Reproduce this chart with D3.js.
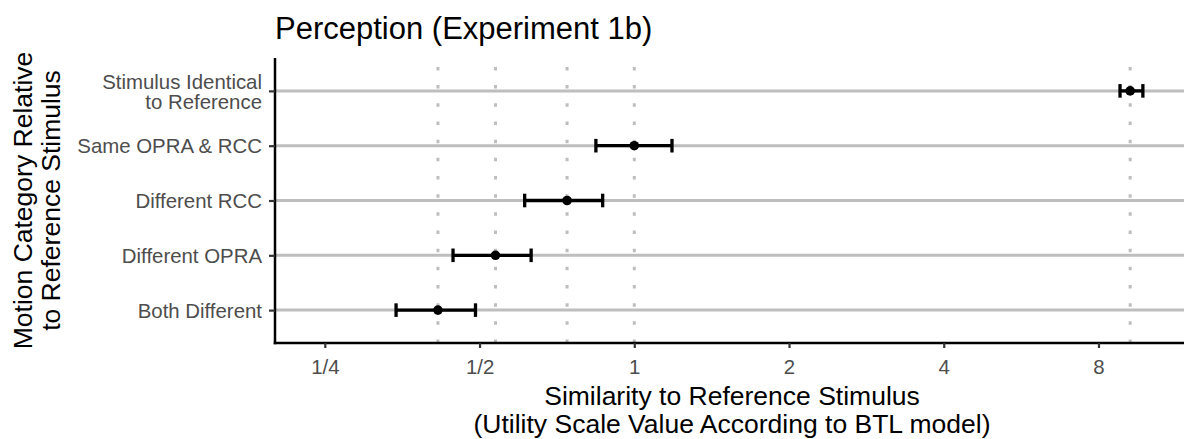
<!DOCTYPE html>
<html>
<head>
<meta charset="utf-8">
<script src="https://cdn.jsdelivr.net/npm/d3@7"></script>
<style>
  body { margin: 0; background: #fff; }
  svg { display: block; font-family: "Liberation Sans", Arial, sans-serif; }
</style>
</head>
<body>
<div id="chart"></div>
<script>
// Data
const categories = ["Stimulus Identical\nto Reference", "Same OPRA & RCC", "Different RCC", "Different OPRA", "Both Different"];
const estimates = [9.22, 1.0, 0.74, 0.537, 0.415];
const lower = [8.81, 0.842, 0.612, 0.444, 0.344];
const upper = [9.76, 1.184, 0.868, 0.630, 0.491];
const tickValues = [0.25, 0.5, 1, 2, 4, 8];
const tickLabels = ["1/4", "1/2", "1", "2", "4", "8"];

const width = 1184;
const height = 439;
const panel = { left: 275, right: 1189, top: 58, bottom: 343 };

const svg = d3.select('#chart')
    .append('svg')
    .attr('width', width)
    .attr('height', height);

// Scales
const x = d3.scaleLog()
    .base(2)
    .domain([0.2, 12])
    .range([panel.left, panel.right]);

const y = d3.scalePoint()
    .domain(categories)
    .range([panel.top, panel.bottom])
    .padding(0.6);

const rows = categories.map((c, i) => ({ cat: c, est: estimates[i], lo: lower[i], hi: upper[i] }));

// Horizontal grid lines at each category
svg.append('g')
    .selectAll('line')
    .data(categories)
    .enter()
    .append('line')
    .attr('x1', panel.left)
    .attr('x2', width)
    .attr('y1', d => y(d))
    .attr('y2', d => y(d))
    .attr('stroke', '#bebebe')
    .attr('stroke-width', 3);

// Dotted vertical lines at each estimate
svg.append('g')
    .selectAll('line')
    .data(rows)
    .enter()
    .append('line')
    .attr('x1', d => x(d.est))
    .attr('x2', d => x(d.est))
    .attr('y1', panel.bottom)
    .attr('y2', panel.top)
    .attr('stroke', '#bebebe')
    .attr('stroke-width', 3)
    .attr('stroke-dasharray', '3.5,14.67');

// Error bars
const bars = svg.append('g')
    .selectAll('g')
    .data(rows)
    .enter()
    .append('g');

bars.append('line')
    .attr('x1', d => x(d.lo))
    .attr('x2', d => x(d.hi))
    .attr('y1', d => y(d.cat))
    .attr('y2', d => y(d.cat))
    .attr('stroke', '#000')
    .attr('stroke-width', 3.3);

bars.selectAll('.cap')
    .data(d => [d.lo, d.hi].map(v => ({ v: v, cat: d.cat })))
    .enter()
    .append('line')
    .attr('class', 'cap')
    .attr('x1', d => x(d.v))
    .attr('x2', d => x(d.v))
    .attr('y1', d => y(d.cat) - 6.8)
    .attr('y2', d => y(d.cat) + 6.8)
    .attr('stroke', '#000')
    .attr('stroke-width', 3.3);

bars.append('circle')
    .attr('cx', d => x(d.est))
    .attr('cy', d => y(d.cat))
    .attr('r', 4.8)
    .attr('fill', '#000');

// X axis
const xAxis = svg.append('g')
    .attr('transform', `translate(0, ${panel.bottom})`)
    .call(d3.axisBottom(x)
        .tickValues(tickValues)
        .tickFormat((d, i) => tickLabels[i])
        .tickSizeOuter(0)
        .tickSize(5)
        .tickPadding(12));

xAxis.select('.domain')
    .attr('d', `M${panel.left - 1.25},0H${width}`)
    .attr('stroke', '#000')
    .attr('stroke-width', 2.5);
xAxis.selectAll('.tick line').attr('stroke', '#333').attr('stroke-width', 2.2);
xAxis.selectAll('.tick text')
    .attr('font-size', '20.4px')
    .attr('font-family', '"Liberation Sans", Arial, sans-serif')
    .attr('fill', '#4d4d4d');

// Y axis
const yAxis = svg.append('g')
    .attr('transform', `translate(${panel.left}, 0)`)
    .call(d3.axisLeft(y)
        .tickSizeOuter(0)
        .tickSize(6)
        .tickPadding(7));

yAxis.select('.domain')
    .attr('d', `M0,${panel.top}V${panel.bottom + 1.25}`)
    .attr('stroke', '#000')
    .attr('stroke-width', 2.5);
yAxis.selectAll('.tick line').attr('stroke', '#333').attr('stroke-width', 2.2);
yAxis.selectAll('.tick text')
    .attr('font-size', '20.4px')
    .attr('font-family', '"Liberation Sans", Arial, sans-serif')
    .attr('fill', '#4d4d4d')
    .each(function(d) {
        const lines = d.split('\n');
        const t = d3.select(this).text(null).attr('dy', null);
        const lh = 20;
        lines.forEach((ln, i) => {
            t.append('tspan')
                .attr('x', -13)
                .attr('dy', i === 0 ? (0.35 * 20.4 - (lines.length - 1) * lh / 2) : lh)
                .text(ln);
        });
    });

// Title
svg.append('text')
    .attr('x', panel.left)
    .attr('y', 39)
    .attr('font-size', '31px')
    .attr('fill', '#000')
    .text('Perception (Experiment 1b)');

// X axis title
const xMid = (panel.left + panel.right) / 2;
const xTitle = svg.append('text')
    .attr('text-anchor', 'middle')
    .attr('font-size', '26.5px')
    .attr('fill', '#000');
xTitle.append('tspan').attr('x', xMid).attr('y', 405).text('Similarity to Reference Stimulus');
xTitle.append('tspan').attr('x', xMid).attr('y', 433).text('(Utility Scale Value According to BTL model)');

// Y axis title
const yMid = (panel.top + panel.bottom) / 2;
const yTitle = svg.append('text')
    .attr('transform', `translate(0, ${yMid}) rotate(-90)`)
    .attr('text-anchor', 'middle')
    .attr('font-size', '26.5px')
    .attr('fill', '#000');
yTitle.append('tspan').attr('x', 0).attr('y', 31.5).text('Motion Category Relative');
yTitle.append('tspan').attr('x', 0).attr('y', 60).text('to Reference Stimulus');
</script>
</body>
</html>
